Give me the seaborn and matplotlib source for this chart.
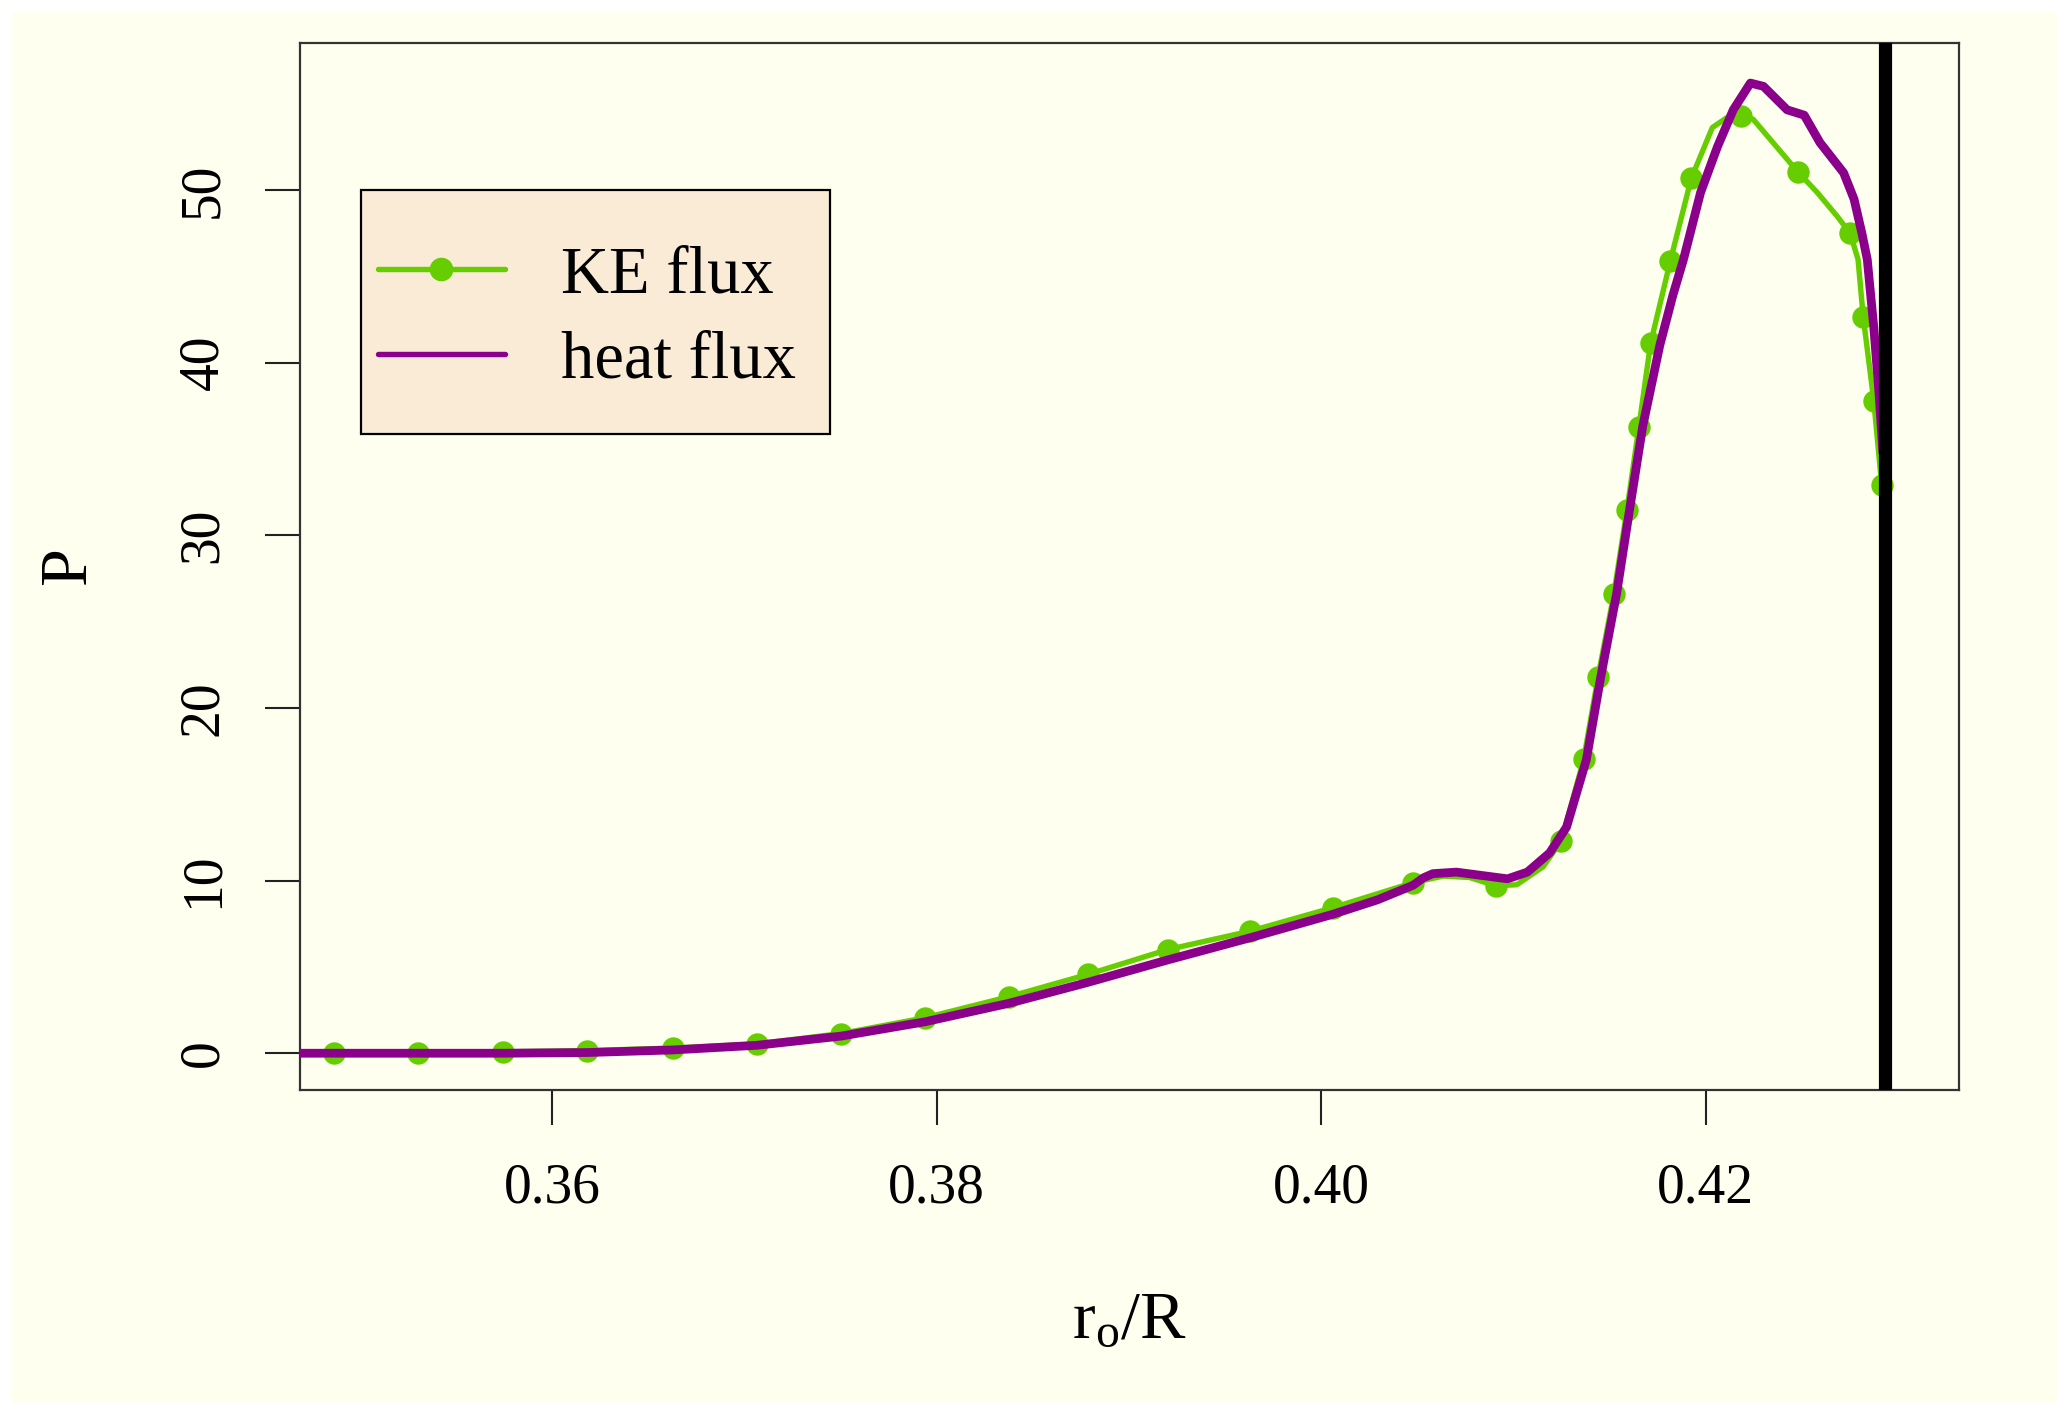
import numpy as np
import pandas as pd
import matplotlib
matplotlib.use("Agg")
import matplotlib.pyplot as plt
from matplotlib.lines import Line2D
from matplotlib.patches import Rectangle
import seaborn as sns

# ---------------- data ----------------
ke_mark_x = [0.34867, 0.35304, 0.35747, 0.36184, 0.36628, 0.37065, 0.37502, 0.37939,
             0.38375, 0.38785, 0.39201, 0.39631, 0.40061, 0.40478, 0.40908, 0.41249,
             0.41365, 0.41440, 0.41522, 0.41590, 0.41652, 0.41713, 0.41816, 0.41925,
             0.42184, 0.42478, 0.42751, 0.42819, 0.42874, 0.42915]
ke_mark_y = [0.0, 0.0, 0.08, 0.15, 0.30, 0.53, 1.14, 2.05,
             3.27, 4.56, 6.00, 7.07, 8.43, 9.88, 9.70, 12.31,
             17.02, 21.81, 26.60, 31.46, 36.25, 41.11, 45.90, 50.68,
             54.26, 51.06, 47.49, 42.63, 37.77, 32.90]

ke_line_x = [0.34689, 0.34867, 0.35304, 0.35747, 0.36184, 0.36628, 0.37065, 0.37502,
             0.37939, 0.38375, 0.38785, 0.39201, 0.39631, 0.40061, 0.40478, 0.40635,
             0.40771, 0.40908, 0.41017, 0.41154, 0.41249, 0.41365, 0.41440, 0.41522,
             0.41590, 0.41652, 0.41713, 0.41816, 0.41925, 0.42034, 0.42109, 0.42184,
             0.42246, 0.42478, 0.42580, 0.42683, 0.42751, 0.42792, 0.42819, 0.42874,
             0.42915]
ke_line_y = [0.0, 0.0, 0.0, 0.08, 0.15, 0.30, 0.53, 1.14,
             2.05, 3.27, 4.56, 6.00, 7.07, 8.43, 9.88, 10.26,
             10.18, 9.70, 9.76, 10.80, 12.31, 17.02, 21.81, 26.60,
             31.46, 36.25, 41.11, 45.90, 50.68, 53.61, 54.18, 54.26,
             54.10, 51.06, 49.85, 48.48, 47.49, 45.97, 42.63, 37.77,
             32.90]

heat_x = [0.34689, 0.35174, 0.35747, 0.36184, 0.36628, 0.37065, 0.37502, 0.37939,
          0.38375, 0.38785, 0.39201, 0.39631, 0.40061, 0.40294, 0.40478, 0.40530,
          0.40580, 0.40703, 0.40812, 0.40969, 0.41072, 0.41188, 0.41276, 0.41379,
          0.41454, 0.41536, 0.41604, 0.41672, 0.41761, 0.41829, 0.41884, 0.41973,
          0.42061, 0.42143, 0.42232, 0.42300, 0.42423, 0.42512, 0.42594, 0.42717,
          0.42771, 0.42812, 0.42840, 0.42874, 0.42901, 0.42921]
heat_y = [0.0, 0.0, 0.0, 0.04, 0.19, 0.46, 0.99, 1.82,
          2.89, 4.10, 5.40, 6.69, 8.05, 8.89, 9.73, 10.15,
          10.40, 10.49, 10.33, 10.10, 10.49, 11.60, 13.10, 17.00,
          21.80, 26.60, 31.50, 36.30, 41.00, 43.90, 45.97, 49.85,
          52.51, 54.64, 56.19, 56.00, 54.64, 54.33, 52.74, 50.99,
          49.47, 47.49, 45.97, 42.02, 38.22, 34.80]

boundary_x = 0.4293
x_ticks = [0.36, 0.38, 0.40, 0.42]
x_tick_labels = ["0.36", "0.38", "0.40", "0.42"]
y_ticks = [0, 10, 20, 30, 40, 50]
y_tick_labels = ["0", "10", "20", "30", "40", "50"]
series_labels = ["KE flux", "heat flux"]

# ---------------- style ----------------
IVORY = "#FFFFF0"
GREEN = "#66CD00"
PURPLE = "#8B008B"
LEGEND_BG = "#FAEBD7"

sns.set_style("ticks")
plt.rcParams["font.family"] = ["Liberation Serif", "DejaVu Serif"]
plt.rcParams["text.color"] = "black"
plt.rcParams["axes.labelcolor"] = "black"
plt.rcParams["mathtext.fontset"] = "custom"
plt.rcParams["mathtext.rm"] = "Liberation Serif"
plt.rcParams["mathtext.it"] = "Liberation Serif:italic"

fig = plt.figure(figsize=(20.57, 14.04), dpi=100, facecolor=IVORY)
ax = fig.add_axes([300 / 2057, 1 - 1090 / 1404, 1659 / 2057, 1047 / 1404])
ax.set_facecolor(IVORY)

# white strips at the left and top edge of the image
fig.patches.append(Rectangle((0, 0), 11 / 2057, 1, transform=fig.transFigure,
                             color="white", zorder=0))
fig.patches.append(Rectangle((0, 1 - 10 / 1404), 1, 10 / 1404, transform=fig.transFigure,
                             color="white", zorder=0))

ke_line = pd.DataFrame({"x": ke_line_x, "y": ke_line_y})
ke_mark = pd.DataFrame({"x": ke_mark_x, "y": ke_mark_y})
heat = pd.DataFrame({"x": heat_x, "y": heat_y})

sns.lineplot(data=ke_line, x="x", y="y", ax=ax, color=GREEN, lw=3.9,
             estimator=None, sort=False, zorder=2)
sns.scatterplot(data=ke_mark, x="x", y="y", ax=ax, color=GREEN, s=260,
                linewidth=0, zorder=3)
sns.lineplot(data=heat, x="x", y="y", ax=ax, color=PURPLE, lw=6.3,
             estimator=None, sort=False, zorder=4)
ax.axvline(boundary_x, color="black", lw=9.5, zorder=5)

ax.set_xlim(0.34689, 0.43317)
ax.set_ylim(-2.13, 58.51)

ax.set_xticks(x_ticks)
ax.set_xticklabels(x_tick_labels)
ax.set_yticks(y_ticks)
ax.set_yticklabels(y_tick_labels, rotation=90, va="center")

ax.tick_params(axis="both", which="major", length=25, width=1.5, color="#222222",
               labelsize=40, labelcolor="black", direction="out")
ax.tick_params(axis="x", pad=27)
ax.tick_params(axis="y", pad=26)

for side in ["left", "right", "top", "bottom"]:
    ax.spines[side].set_visible(True)
    ax.spines[side].set_color("#333333")
    ax.spines[side].set_linewidth(1.6)

xl = ax.set_xlabel(r"r$_{\mathrm{o}}$/R", fontsize=49, color="black")
ax.xaxis.set_label_coords(0.5, -0.2369)
xl.set_va("baseline")
yl = ax.set_ylabel("P", fontsize=49, color="black")
ax.yaxis.set_label_coords(-0.1296, 0.5)
yl.set_va("baseline")
yl.set_rotation_mode("anchor")

# legend
ax.add_patch(Rectangle((0.0368, 0.6266), 0.2827, 0.233, transform=ax.transAxes,
                       facecolor=LEGEND_BG, edgecolor="black", lw=1.6, zorder=6))
handles = [Line2D([], [], color=GREEN, lw=3.9, marker="o", markersize=16),
           Line2D([], [], color=PURPLE, lw=3.9)]
leg = ax.legend(handles, series_labels, loc="center left",
                bbox_to_anchor=(0.047, 0.7372), frameon=False, fontsize=48,
                handlelength=1.9, handletextpad=0.84, labelspacing=0.36,
                borderpad=0, borderaxespad=0, labelcolor="black")
leg.set_zorder(7)

fig.savefig("out.png", dpi=100, facecolor=IVORY)
